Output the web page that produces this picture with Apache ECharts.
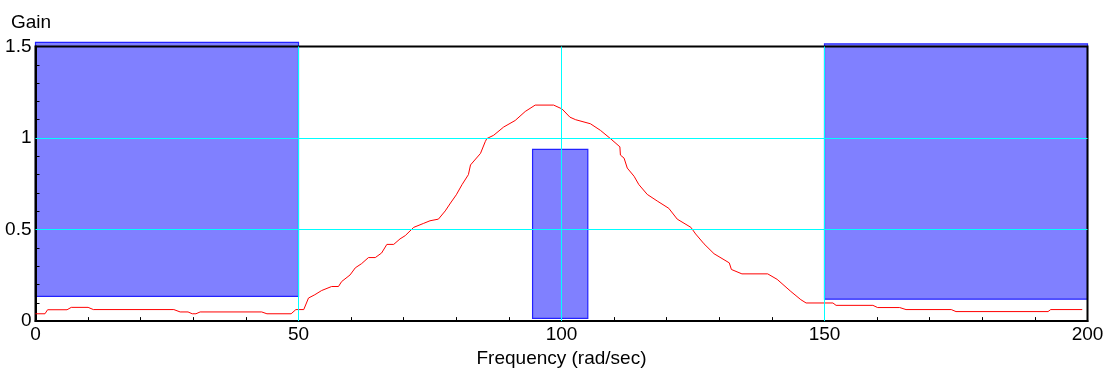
<!DOCTYPE html>
<html>
<head>
<meta charset="utf-8">
<script src="https://cdn.jsdelivr.net/npm/echarts@6/dist/echarts.min.js"></script>
<style>
html,body{margin:0;padding:0;background:#fff;}
#chart{width:1109px;height:373px;}
</style>
</head>
<body>
<div id="chart"></div>
<script>
// Frequency response (red line)
const freq = [0,1.8,2.3,6,6.8,10,11,26.3,27.5,29,29.8,30.5,31.3,43,44,48.6,49.5,51,51.9,53.1,54.4,56.3,57.6,58.2,59.8,60.8,62,63.3,64.6,65.8,66.8,68.1,69.3,70.3,71.9,73.8,75,76.6,77.9,78.9,80,81.1,82.3,82.7,84.6,85.5,85.8,87.1,89,91.2,93.1,95,98.5,100.1,101.6,102.7,105.5,107.4,109.3,111.1,111.2,111.9,112.5,113.8,114.7,116.3,118.2,120.4,122,124.6,125.5,127.1,129,131.9,132.3,134.3,139.2,141,143.6,145.5,146.5,151.6,152.2,159.2,160.1,164.3,165.5,174.1,175,192.5,193,199];
const gain = [0.04,0.04,0.062,0.062,0.075,0.075,0.063,0.063,0.05,0.05,0.04,0.04,0.05,0.05,0.04,0.04,0.063,0.063,0.126,0.144,0.167,0.189,0.189,0.216,0.252,0.291,0.314,0.347,0.347,0.372,0.419,0.419,0.449,0.467,0.512,0.534,0.548,0.557,0.602,0.645,0.69,0.746,0.8,0.853,0.916,0.98,0.997,1.015,1.06,1.096,1.145,1.18,1.18,1.159,1.114,1.1,1.078,1.042,0.997,0.952,0.907,0.89,0.836,0.791,0.746,0.692,0.656,0.616,0.557,0.512,0.476,0.422,0.368,0.318,0.282,0.258,0.258,0.228,0.162,0.117,0.099,0.099,0.086,0.086,0.074,0.074,0.063,0.063,0.052,0.052,0.063,0.063];

// Constraint boxes (blue rectangles)
const rectX0 = [0, 94.5, 150];
const rectX1 = [50, 105, 200];
const rectYLow = [0.135, 0.015, 0.12];
const rectYHigh = [1.522, 0.938, 1.514];

// Axis ticks / grid lines
const xTicks = [0, 50, 100, 150, 200];
const yTicks = [0, 0.5, 1, 1.5];
const xGrid = [50, 100, 150];
const yGrid = [0.5, 1];

const lineData = freq.map((f, i) => [f, gain[i]]);
const rectData = rectX0.map((x0, i) => [x0, rectX1[i], rectYLow[i], rectYHigh[i]]);
const gridLines = xGrid.map(v => ({xAxis: v})).concat(yGrid.map(v => ({yAxis: v})));

const FONT = "'Liberation Sans', Arial, sans-serif";
const chart = echarts.init(document.getElementById('chart'), null, {renderer: 'canvas'});
chart.setOption({
  animation: false,
  backgroundColor: '#ffffff',
  grid: {
    left: 35.5, right: 21.5, top: 46.5, bottom: 47.5,
    show: true, borderColor: '#000', borderWidth: 2, backgroundColor: 'transparent'
  },
  xAxis: {
    type: 'value',
    min: xTicks[0], max: xTicks[xTicks.length - 1], interval: 50,
    name: 'Frequency (rad/sec)',
    nameLocation: 'middle', nameGap: 20,
    nameTextStyle: {fontFamily: FONT, fontSize: 19, color: '#000'},
    axisLine: {show: true, lineStyle: {color: '#000', width: 2}},
    axisTick: {show: false, inside: true},
    minorTick: {show: true, splitNumber: 5, length: 4, lineStyle: {color: '#000', width: 1}},
    axisLabel: {fontFamily: FONT, fontSize: 19, color: '#000', margin: 4},
    splitLine: {show: false},
    minorSplitLine: {show: false}
  },
  yAxis: {
    type: 'value',
    min: yTicks[0], max: yTicks[yTicks.length - 1], interval: 0.5,
    name: 'Gain',
    nameLocation: 'end', nameGap: 14,
    nameTextStyle: {fontFamily: FONT, fontSize: 19, color: '#000', align: 'center', padding: [0, 9, 0, 0]},
    axisLine: {show: true, lineStyle: {color: '#000', width: 2}},
    axisTick: {show: false, inside: true},
    minorTick: {show: true, splitNumber: 5, length: 4, lineStyle: {color: '#000', width: 1}},
    axisLabel: {fontFamily: FONT, fontSize: 19, color: '#000', margin: 4},
    splitLine: {show: false},
    minorSplitLine: {show: false}
  },
  series: [
    {
      type: 'custom',
      z: -1,
      clip: false,
      data: rectData,
      encode: {x: [0, 1], y: [2, 3]},
      renderItem: function (params, api) {
        const p0 = api.coord([api.value(0), api.value(3)]);
        const p1 = api.coord([api.value(1), api.value(2)]);
        return {
          type: 'rect',
          shape: {x: p0[0], y: p0[1], width: p1[0] - p0[0], height: p1[1] - p0[1]},
          style: {fill: '#8080ff', stroke: '#2222ff', lineWidth: 1.2}
        };
      },
      silent: true
    },
    {
      type: 'line',
      z: 1,
      data: [],
      symbol: 'none',
      silent: true,
      markLine: {
        silent: true,
        animation: false,
        symbol: ['none', 'none'],
        label: {show: false},
        lineStyle: {color: '#00ffff', width: 1, type: 'solid', opacity: 1},
        emphasis: {disabled: true},
        data: gridLines
      }
    },
    {
      type: 'line',
      z: 3,
      data: lineData,
      showSymbol: false,
      symbol: 'none',
      lineStyle: {color: '#ff0000', width: 1},
      silent: true
    }
  ]
});
</script>
</body>
</html>
